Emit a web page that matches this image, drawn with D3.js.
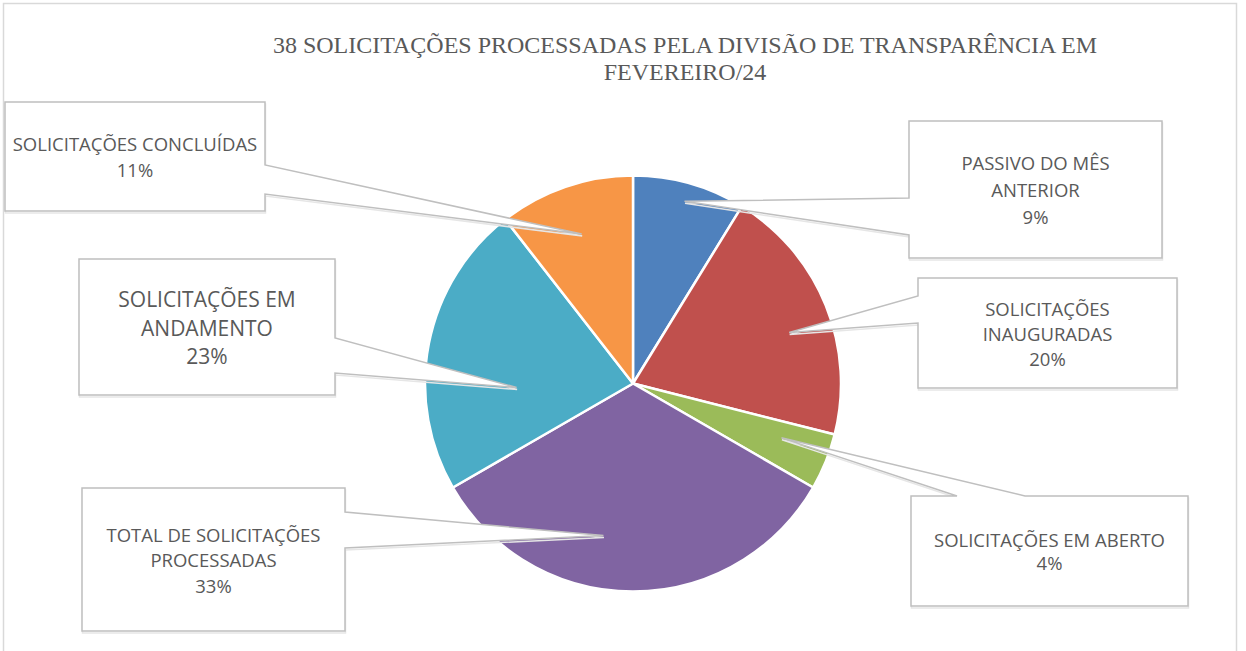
<!DOCTYPE html>
<html>
<head>
<meta charset="utf-8">
<script src="https://cdn.jsdelivr.net/npm/d3@7"></script>
<style>
  body { margin: 0; background: #fff; }
</style>
</head>
<body>
<div id="chart"></div>
<script>

// chart data
const titleLines = ["38 SOLICITAÇÕES PROCESSADAS PELA DIVISÃO DE TRANSPARÊNCIA EM", "FEVEREIRO/24"]
const categories = ["PASSIVO DO MÊS ANTERIOR", "SOLICITAÇÕES INAUGURADAS", "SOLICITAÇÕES EM ABERTO",
	"TOTAL DE SOLICITAÇÕES PROCESSADAS", "SOLICITAÇÕES EM ANDAMENTO", "SOLICITAÇÕES CONCLUÍDAS"]
const values = [10, 23, 5, 38, 26, 12]
const colors = ["#4F81BD", "#C0504D", "#9BBB59", "#8064A2", "#4BACC6", "#F79646"]

// label lines (how each category wraps inside its callout)
const labelLines = [
	["PASSIVO DO MÊS", "ANTERIOR"],
	["SOLICITAÇÕES", "INAUGURADAS"],
	["SOLICITAÇÕES EM ABERTO"],
	["TOTAL DE SOLICITAÇÕES", "PROCESSADAS"],
	["SOLICITAÇÕES EM", "ANDAMENTO"],
	["SOLICITAÇÕES CONCLUÍDAS"]
]

// callout layout: box, which edge the wedge leaves from, where, apex radius / angle nudge
const callouts = [
	{x: 909, y: 121, w: 253, h: 137, edge: 'left',  a1: 198, a2: 235, rf: 0.91, da: 0,   fs: 18.5, lh: 27},
	{x: 918, y: 278, w: 259, h: 110, edge: 'left',  a1: 296, a2: 323, rf: 0.79, da: 4,   fs: 18.5, lh: 25},
	{x: 911, y: 496, w: 277, h: 110, edge: 'top',   a1: 957, a2: 1025, rf: 0.76, da: -2, fs: 18.5, lh: 23},
	{x: 82,  y: 488, w: 263, h: 143, edge: 'right', a1: 512, a2: 548, rf: 0.745, da: 11, fs: 18.5, lh: 25.5},
	{x: 79,  y: 259, w: 256, h: 136, edge: 'right', a1: 338, a2: 373, rf: 0.56, da: -13, fs: 21, lh: 28.5},
	{x: 5,   y: 102, w: 260, h: 109, edge: 'right', a1: 165, a2: 194, rf: 0.76, da: 0,   fs: 18.5, lh: 26}
]

var width = 1246, height = 651
var cx = 633, cy = 383.5, radius = 208

var svg = d3.select("#chart").append("svg")
	.attr("width", width)
	.attr("height", height)
	.style("display", "block")

// outer chart frame
svg.append('rect')
	.attr('x', 3.5)
	.attr('y', 3.5)
	.attr('width', 1233)
	.attr('height', 700)
	.attr('fill', 'none')
	.attr('stroke', '#d9d9d9')
	.attr('stroke-width', 1.5)

// title
svg.append('text')
	.attr('text-anchor', 'middle')
	.style('font-family', '"Liberation Serif", "Times New Roman", serif')
	.style('font-size', '24px')
	.attr('fill', '#595959')
	.selectAll('tspan')
	.data(titleLines)
	.enter()
	.append('tspan')
		.attr('x', 685)
		.attr('y', (d, i) => 53 + i * 27)
		.text(d => d)

var total = d3.sum(values)
var pct = d3.format(".0%")

var pie = d3.pie().sort(null).value(d => d)
var arcs = pie(values)
var arc = d3.arc().innerRadius(0).outerRadius(radius)

var pieGrp = svg.append('g')
	.attr('transform', 'translate(' + cx + ',' + cy + ')')

pieGrp.selectAll('path')
	.data(arcs)
	.enter()
	.append('path')
		.attr('d', arc)
		.attr('fill', (d, i) => colors[i])
		.attr('stroke', '#ffffff')
		.attr('stroke-width', 2.5)
		.attr('stroke-linejoin', 'round')

// callout wedge point inside each slice
const apex = function(d, i){
	var c = callouts[i]
	var a = (d.startAngle + d.endAngle) / 2 + c.da * Math.PI / 180
	var r = radius * c.rf
	return [cx + r * Math.sin(a), cy - r * Math.cos(a)]
}

const calloutPath = function(d, i){
	var c = callouts[i], p = apex(d, i)
	var x0 = c.x, y0 = c.y, x1 = c.x + c.w, y1 = c.y + c.h
	if (c.edge == 'left')
		return `M${x0},${y0} H${x1} V${y1} H${x0} V${c.a2} L${p[0]},${p[1]} L${x0},${c.a1} Z`
	if (c.edge == 'right')
		return `M${x0},${y0} H${x1} V${c.a1} L${p[0]},${p[1]} L${x1},${c.a2} V${y1} H${x0} Z`
	return `M${x0},${y0} H${c.a1} L${p[0]},${p[1]} L${c.a2},${y0} H${x1} V${y1} H${x0} Z`
}

var labelGrp = svg.append('g').attr('class', 'callouts')

// faint drop shadow then the callout shape
labelGrp.selectAll('path.shadow')
	.data(arcs)
	.enter()
	.append('path')
		.attr('class', 'shadow')
		.attr('d', calloutPath)
		.attr('transform', 'translate(0.5,2)')
		.attr('fill', 'none')
		.attr('stroke', '#e6e6e6')
		.attr('stroke-width', 1.5)

labelGrp.selectAll('path.box')
	.data(arcs)
	.enter()
	.append('path')
		.attr('class', 'box')
		.attr('d', calloutPath)
		.attr('fill', '#ffffff')
		.attr('stroke', '#bfbfbf')
		.attr('stroke-width', 1.5)
		.attr('stroke-linejoin', 'miter')

labelGrp.selectAll('text')
	.data(arcs)
	.enter()
	.append('text')
		.attr('text-anchor', 'middle')
		.style('font-family', '"Open Sans", sans-serif')
		.style('font-size', (d, i) => callouts[i].fs + 'px')
		.attr('fill', '#595959')
		.each(function(d, i){
			var c = callouts[i]
			var lines = labelLines[i].concat([pct(d.value / total)])
			var midY = c.y + c.h / 2 + 1
			var startY = midY - (lines.length - 1) * c.lh / 2 + c.fs * 0.36
			d3.select(this).selectAll('tspan')
				.data(lines)
				.enter()
				.append('tspan')
					.attr('x', c.x + c.w / 2)
					.attr('y', (t, j) => startY + j * c.lh)
					.text(t => t)
		})

</script>
</body>
</html>
